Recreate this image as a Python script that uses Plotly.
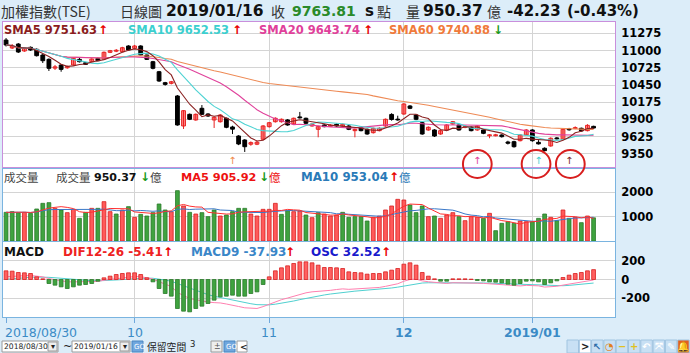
import numpy as np
import pandas as pd
import plotly.graph_objects as go

W, H = 690, 353

# ---------------- data ----------------
month_tick_idx = [0, 21, 43, 65, 86]
month_tick_lbl = ["2018/08/30", "10", "11", "12", "2019/01"]
price_ticks = [9350, 9625, 9900, 10175, 10450, 10725, 11000, 11275]
vol_ticks = [1000, 2000]
macd_ticks = [-200, 0, 200]

opens = [11168, 11041, 11104, 10993, 11052, 11020, 10929, 10860, 10720, 10769,
         10725, 10769, 10860, 10806, 10822, 10876, 10865, 10972, 10990, 10982,
         11073, 11036, 11073, 10929, 10822, 10662, 10487, 10477, 10275, 9796,
         9982, 9892, 10078, 9987, 9892, 9864, 9919, 9780, 9636, 9572,
         9505, 9505, 9583, 9785, 9864, 9864, 9892, 9828, 9940, 9919,
         9796, 9743, 9812, 9790, 9822, 9796, 9796, 9721, 9775, 9743,
         9689, 9721, 9796, 9980, 9905, 9987, 10115, 9971, 9848, 9732,
         9732, 9668, 9732, 9828, 9812, 9775, 9775, 9732, 9732, 9640,
         9640, 9652, 9540, 9545, 9561, 9652, 9732, 9535, 9440, 9477,
         9605, 9583, 9750, 9755, 9759, 9721, 9790]
highs = [11200, 11104, 11120, 11050, 11065, 11035, 10945, 10875, 10770, 10785,
         10760, 10890, 10880, 10815, 10880, 10890, 10985, 11010, 11025, 11060,
         11085, 11090, 11085, 10935, 10835, 10675, 10500, 10515, 10290, 10050,
         9995, 9995, 10130, 10000, 9950, 9985, 9930, 9800, 9650, 9585,
         9550, 9560, 9810, 9860, 9935, 9915, 9905, 9930, 10020, 9930,
         9840, 9800, 9825, 9825, 9835, 9835, 9810, 9755, 9790, 9755,
         9770, 9775, 9915, 10000, 9960, 10160, 10130, 9985, 9860, 9790,
         9745, 9735, 9825, 9875, 9825, 9805, 9790, 9810, 9745, 9665,
         9670, 9665, 9560, 9560, 9665, 9745, 9745, 9570, 9455, 9615,
         9620, 9755, 9765, 9790, 9770, 9825, 9800]
lows = [11065, 11025, 10961, 10980, 10995, 10905, 10801, 10674, 10690, 10662,
        10710, 10760, 10810, 10770, 10810, 10830, 10855, 10960, 10975, 10975,
        11000, 11025, 10915, 10850, 10700, 10500, 10440, 10460, 9800, 9748,
        9890, 9880, 9970, 9940, 9764, 9850, 9760, 9668, 9490, 9381,
        9480, 9490, 9570, 9770, 9850, 9850, 9800, 9815, 9915, 9825,
        9785, 9615, 9775, 9780, 9785, 9785, 9730, 9615, 9710, 9655,
        9675, 9710, 9785, 9880, 9880, 9975, 10065, 9890, 9655, 9720,
        9620, 9655, 9720, 9815, 9720, 9760, 9710, 9720, 9665, 9600,
        9630, 9610, 9500, 9450, 9550, 9640, 9545, 9500, 9390, 9465,
        9580, 9570, 9720, 9745, 9705, 9710, 9750]
closes = [11089, 11073, 10977, 11036, 11009, 10918, 10838, 10717, 10740, 10700,
          10745, 10876, 10822, 10780, 10865, 10838, 10972, 10998, 11005, 11045,
          11009, 11073, 10929, 10860, 10717, 10514, 10460, 10502, 9812, 10040,
          9903, 9982, 9982, 9955, 9935, 9971, 9775, 9745, 9508, 9465,
          9530, 9537, 9796, 9848, 9919, 9903, 9812, 9919, 9925, 9839,
          9827, 9785, 9785, 9810, 9796, 9822, 9743, 9743, 9721, 9668,
          9759, 9759, 9903, 9900, 9892, 10147, 10078, 9903, 9668, 9775,
          9636, 9721, 9812, 9864, 9732, 9790, 9721, 9796, 9679, 9655,
          9655, 9625, 9520, 9465, 9652, 9732, 9561, 9510, 9402, 9600,
          9590, 9743, 9735, 9770, 9716, 9806.04, 9763.81]

volumes = [1175, 1202, 1161, 1175, 1134, 1312, 1544, 1571, 1339, 1271,
           1161, 1298, 929, 1175, 1339, 1339, 1612, 1202, 1106, 1271,
           1407, 970, 1093, 1024, 1161, 1517, 1271, 1202, 2063, 1435,
           1175, 1106, 1161, 997, 1271, 1024, 1065, 1202, 1339, 1339,
           1106, 1024, 1298, 1298, 1544, 1093, 1243, 1202, 1230, 1065,
           956, 1161, 1106, 1024, 1065, 1175, 970, 997, 997, 819,
           970, 1024, 1271, 1435, 1708, 1681, 1476, 1161, 1435, 997,
           1024, 929, 1065, 1161, 997, 833, 997, 970, 929, 1134,
           423, 724, 792, 724, 819, 792, 792, 929, 1106, 970,
           833, 1271, 929, 970, 751, 1024, 950.37]
vol_dir = ("gggrggggrg" "rrggrgrrgr" "grgggggrgr" "grgggrgggg" "rrrrrggrrg"
           "rgrrrggggg" "rrrrrrgggr" "grrrgrrrgr" "ggggrrgggr" "grgrgrg")

osc = [28.6, 27.5, 23.1, 22.0, 19.8, 8.8, 2.2, -13.2, -18.7, -24.2,
       -29.7, -24.2, -18.7, -16.5, -13.2, -5.5, 5.5, 11.0, 16.5, 19.8,
       22.0, 22.0, 16.5, 5.5, -7.7, -29.7, -46.2, -55.0, -95.7, -104.5,
       -106.7, -95.7, -88.0, -79.2, -68.2, -57.2, -55.0, -51.7, -55.0, -55.0,
       -46.2, -40.7, -16.5, 8.8, 28.6, 38.5, 45.1, 52.8, 58.3, 58.3,
       55.0, 47.3, 39.6, 39.6, 38.5, 36.3, 25.3, 23.1, 22.0, 17.6,
       19.8, 19.8, 25.3, 30.8, 36.3, 50.6, 55.0, 47.3, 23.1, 11.0,
       2.2, -5.5, -5.5, 2.2, 2.2, 2.2, 1.1, -3.3, -4.4, -7.7,
       -8.8, -11.0, -15.4, -18.7, -13.2, -5.5, -4.4, -7.7, -16.5, -11.0,
       -4.4, 6.6, 14.3, 19.8, 23.1, 28.6, 32.52]
macd9 = [0.6, 7.4, 13.2, 18.7, 23.7, 25.9, 26.4, 23.1, 18.4, 12.4,
         4.9, -1.1, -5.8, -9.9, -13.2, -14.6, -13.2, -10.4, -6.3, -1.4,
         4.1, 9.6, 13.8, 15.1, 13.2, 5.8, -5.8, -19.5, -43.4, -69.6,
         -96.3, -120.2, -142.2, -162.0, -179.0, -193.3, -207.1, -220.0, -233.8, -247.5,
         -259.1, -269.2, -273.4, -271.2, -264.0, -254.4, -243.1, -229.9, -215.3, -200.8,
         -187.0, -175.2, -165.3, -155.4, -145.8, -136.7, -130.4, -124.6, -119.1, -114.7,
         -109.7, -104.8, -98.5, -90.8, -81.7, -69.0, -55.3, -43.5, -37.7, -34.9,
         -34.4, -35.8, -37.1, -36.6, -36.0, -35.5, -35.2, -36.0, -37.1, -39.1,
         -41.3, -44.0, -47.9, -52.5, -55.8, -57.2, -58.3, -60.2, -64.4, -67.1,
         -68.2, -66.6, -63.0, -58.0, -52.3, -45.1, -37.93]
dif = [29.2, 34.9, 36.3, 40.7, 43.5, 34.7, 28.6, 9.9, -0.3, -11.8,
       -24.8, -25.3, -24.5, -26.4, -26.4, -20.1, -7.7, 0.6, 10.2, 18.4,
       26.1, 31.6, 30.3, 20.6, 5.5, -23.9, -52.0, -74.5, -139.1, -174.1,
       -203.0, -215.9, -230.2, -241.2, -247.2, -250.5, -262.1, -271.7, -288.8, -302.5,
       -305.3, -309.9, -289.9, -262.4, -235.4, -215.9, -198.0, -177.1, -157.0, -142.5,
       -132.0, -127.9, -125.7, -115.8, -107.3, -100.4, -105.1, -101.5, -97.1, -97.1,
       -89.9, -85.0, -73.2, -60.0, -45.4, -18.4, -0.3, 3.8, -14.6, -23.9,
       -32.2, -41.3, -42.6, -34.4, -33.8, -33.3, -34.1, -39.3, -41.5, -46.8,
       -50.1, -55.0, -63.3, -71.2, -69.0, -62.7, -62.7, -67.9, -80.9, -78.1,
       -72.6, -60.0, -48.7, -38.2, -29.2, -16.5, -5.41]

signal_idx = [37, 77, 87, 92]
signal_col = ["#f08a4b", "#e0409a", "#3fcfcf", "#7a2a2a"]
circled_idx = [77.0, 86.6, 92.2]

# ---------------- helpers ----------------
def px(x):
    return x / W

def py(y):
    return 1 - y / H

LAT = "DejaVu Sans"
CJK = "Noto Sans CJK TC"
n = len(closes)
idx = np.arange(n)
o = np.array(opens, float); c = np.array(closes, float)
hi = np.array(highs, float); lo = np.array(lows, float)
up = c >= o

fig = go.Figure()

# wicks
for mask, col in [(up, "#e82020"), (~up, "#000000")]:
    xs, ys = [], []
    for i in idx[mask]:
        xs += [i, i, None]; ys += [lo[i], hi[i], None]
    fig.add_trace(go.Scatter(x=xs, y=ys, mode="lines", line=dict(color=col, width=1),
                             xaxis="x", yaxis="y", hoverinfo="skip"))
# bodies
base = np.minimum(o, c); hgt = np.abs(c - o)
fig.add_trace(go.Bar(x=idx[up], y=hgt[up], base=base[up], width=0.62,
                     marker=dict(color="#ff8a8a", line=dict(color="#e82020", width=1)),
                     xaxis="x", yaxis="y"))
fig.add_trace(go.Bar(x=idx[~up], y=hgt[~up], base=base[~up], width=0.62,
                     marker=dict(color="#000000", line=dict(color="#000000", width=1)),
                     xaxis="x", yaxis="y"))
# SMAs
cs = pd.Series(c)
for win, col in [(60, "#ee8a55"), (20, "#e0429b"), (10, "#4fd3d3"), (5, "#8b2323")]:
    fig.add_trace(go.Scatter(x=idx, y=cs.rolling(win, min_periods=1).mean(), mode="lines",
                             line=dict(color=col, width=1.1), xaxis="x", yaxis="y"))
# signal marks
fig.add_trace(go.Scatter(x=signal_idx, y=[9222] * len(signal_idx), mode="text", text=["↑"] * len(signal_idx),
                         textfont=dict(color=signal_col, size=10, family=LAT), xaxis="x", yaxis="y"))

# volume
v = np.array(volumes, float)
vup = np.array([d == "r" for d in vol_dir])
fig.add_trace(go.Bar(x=idx[vup], y=v[vup], width=0.62,
                     marker=dict(color="#ff5a5a", line=dict(color="#d82020", width=0.8)),
                     xaxis="x2", yaxis="y2"))
fig.add_trace(go.Bar(x=idx[~vup], y=v[~vup], width=0.62,
                     marker=dict(color="#3fa33f", line=dict(color="#2a7a2a", width=0.8)),
                     xaxis="x2", yaxis="y2"))
vs = pd.Series(v)
fig.add_trace(go.Scatter(x=idx, y=vs.rolling(10, min_periods=1).mean(), mode="lines",
                         line=dict(color="#3a78c8", width=1), xaxis="x2", yaxis="y2"))
fig.add_trace(go.Scatter(x=idx, y=vs.rolling(5, min_periods=1).mean(), mode="lines",
                         line=dict(color="#ff3030", width=1), xaxis="x2", yaxis="y2"))

# MACD
oa = np.array(osc)
fig.add_trace(go.Bar(x=idx[oa >= 0], y=oa[oa >= 0], width=0.62,
                     marker=dict(color="#ff6060", line=dict(color="#d82020", width=0.8)),
                     xaxis="x3", yaxis="y4"))
fig.add_trace(go.Bar(x=idx[oa < 0], y=oa[oa < 0], width=0.62,
                     marker=dict(color="#3fa33f", line=dict(color="#2a7a2a", width=0.8)),
                     xaxis="x3", yaxis="y4"))
fig.add_trace(go.Scatter(x=idx, y=macd9, mode="lines", line=dict(color="#50d0d0", width=1),
                         xaxis="x3", yaxis="y3"))
fig.add_trace(go.Scatter(x=idx, y=dif, mode="lines", line=dict(color="#ff80b0", width=1),
                         xaxis="x3", yaxis="y3"))

GRID = "#d4d4d4"
PBOR = "#c98fdc"
VBOR = "#7ab4e0"
XR = [-0.5, 99.5]
xdom = [px(3), px(615)]
common_x = dict(range=XR, domain=xdom, showline=True, mirror=True, zeroline=False,
                showticklabels=False, ticks="", tickvals=month_tick_idx[1:],
                showgrid=True, gridcolor=GRID, fixedrange=True)
tickf = dict(family=LAT, size=11.5, color="#000", weight="bold")
common_y = dict(side="right", showline=True, mirror=True, zeroline=False, showgrid=True,
                gridcolor=GRID, ticks="", tickfont=tickf, fixedrange=True, ticklabelstandoff=3)

rng_price = [9141, 11456]
rng_macd = [-401, 401]
hist_scale = 3.24

fig.update_layout(
    width=W, height=H, margin=dict(l=0, r=0, t=0, b=0),
    paper_bgcolor="#dcedf9", plot_bgcolor="#ffffff", showlegend=False,
    barmode="overlay", hovermode=False,
    xaxis=dict(**common_x, anchor="y", linecolor=PBOR),
    xaxis2=dict(**common_x, anchor="y2", linecolor=VBOR),
    xaxis3=dict(range=XR, domain=xdom, showline=True, mirror=True, zeroline=False,
                showticklabels=False, ticks="outside", ticklen=5, tickcolor="#6fa8dc",
                tickvals=month_tick_idx, showgrid=False, linecolor=VBOR, anchor="y3",
                minor=dict(tickvals=month_tick_idx[1:], showgrid=True, gridcolor=GRID, ticks=""),
                fixedrange=True),
    yaxis=dict(**common_y, domain=[py(167), py(22)], range=rng_price, tickvals=price_ticks,
               ticktext=[str(t) for t in price_ticks], linecolor=PBOR, anchor="x"),
    yaxis2=dict(**common_y, domain=[py(241), py(169)], range=[0, 2951], tickvals=vol_ticks,
                ticktext=[str(t) for t in vol_ticks], linecolor=VBOR, anchor="x2"),
    yaxis3=dict(**common_y, domain=[py(317), py(242)], range=rng_macd, tickvals=macd_ticks,
                ticktext=[str(t) for t in macd_ticks], linecolor=VBOR, anchor="x3"),
    yaxis4=dict(overlaying="y3", range=[rng_macd[0] / hist_scale, rng_macd[1] / hist_scale],
                visible=False, fixedrange=True),
)

ann = []
def txt(x, y, s, color="#333", size=12, bold=False, family=LAT, anchor="left"):
    ann.append(dict(x=px(x), y=py(y), xref="paper", yref="paper", text=s, showarrow=False,
                    xanchor=anchor, yanchor="middle", borderpad=0,
                    font=dict(family=family, size=size, color=color,
                              weight="bold" if bold else "normal")))

# title row
txt(0, 11, "加權指數(TSE)", "#333", 14, False, CJK)
txt(119, 11, "日線圖", "#333", 14, False, CJK)
txt(165, 11, "2019/01/16", "#111", 15.5, True)
txt(270, 11, "收", "#333", 14, False, CJK)
txt(291, 11, "9763.81", "#2a8a2a", 14, True)
txt(364, 11, "s", "#111", 15, True)
txt(376, 11, "點", "#333", 14, False, CJK)
txt(405, 11, "量", "#333", 14, False, CJK)
txt(422, 11, "950.37", "#111", 15.5, True)
txt(486, 11, "億", "#333", 14, False, CJK)
txt(506, 11, "-42.23", "#111", 15, True)
txt(566, 11, "(-0.43%)", "#111", 15, True)

# SMA row
RED = "#e80000"; GRN = "#1a9a1a"
txt(3, 30, "SMA5 9751.63", "#8b1c1c", 11.5, True)
txt(97, 30, "↑", RED, 12, True)
txt(127, 30, "SMA10 9652.53", "#3ccfcf", 11.5, True)
txt(231, 30, "↑", RED, 12, True)
txt(258, 30, "SMA20 9643.74", "#e0409a", 11.5, True)
txt(362, 30, "↑", RED, 12, True)
txt(388, 30, "SMA60 9740.88", "#f07a3a", 11.5, True)
txt(492, 30, "↓", GRN, 12, True)

# volume row
txt(3, 177, "成交量", "#444", 11.5, False, CJK)
txt(55, 177, "成交量", "#444", 11.5, False, CJK)
txt(93, 177, "950.37", "#111", 11, True)
txt(139, 177, "↓", GRN, 12, True)
txt(149, 177, "億", "#444", 11.5, False, CJK)
txt(180, 177, "MA5 905.92", "#ee1111", 11.3, True)
txt(257.5, 177, "↓", GRN, 12, True)
txt(268, 177, "億", "#ee1111", 11.5, False, CJK)
txt(300, 177, "MA10 953.04", "#2a7ab8", 11.8, True)
txt(388, 177, "↑", RED, 12, True)
txt(398, 177, "億", "#2a7ab8", 11.5, False, CJK)

# MACD row
txt(3, 252, "MACD", "#111", 12, True)
txt(62, 252, "DIF12-26 -5.41", "#ee2222", 12, True)
txt(162, 252, "↑", RED, 12, True)
txt(190, 252, "MACD9 -37.93", "#3a86c8", 12, True)
txt(284, 252, "↑", RED, 12, True)
txt(310, 252, "OSC 32.52", "#1a1acc", 12, True)
txt(380, 252, "↑", RED, 12, True)

# x tick labels
XL = "#3b8bc6"
for k, (i, lab) in enumerate(zip(month_tick_idx, month_tick_lbl)):
    ann.append(dict(x=i if k else -0.5, y=py(332), xref="x3", yref="paper", text=lab, showarrow=False,
                    xanchor="left" if k == 0 else "center", yanchor="middle",
                    font=dict(family=LAT, size=12.5, color=XL, weight="bold" if k >= 3 else "normal")))

# bottom toolbar
shapes = []
def box(x0, y0, x1, y1, fill="#ffffff", line="#9a9a9a"):
    shapes.append(dict(type="rect", xref="paper", yref="paper", x0=px(x0), x1=px(x1),
                       y0=py(y1), y1=py(y0), fillcolor=fill, line=dict(color=line, width=1)))

box(2, 341, 58, 352); box(48, 342, 57, 351, "#eeeeee")
txt(2.5, 346.5, "2018/08/30", "#222", 7.6)
txt(49.5, 346.5, "▾", "#222", 8)
txt(62, 346, "~", "#222", 11)
box(72, 341, 130, 352); box(120, 342, 129, 351, "#eeeeee")
txt(72.5, 346.5, "2019/01/16", "#222", 7.6)
txt(121.5, 346.5, "▾", "#222", 8)
box(132, 341, 143, 352, "#6fa6de", "#4a86c0")
txt(132.5, 346.5, "GO", "#ffffff", 7)
txt(146, 346.5, "保留空間", "#222", 9.8, False, CJK)
txt(189, 344, "3", "#222", 8.5)
box(211, 341, 222, 352, "#eeeeee")
txt(213, 346.5, "±", "#555", 8)
box(224, 341, 235, 352, "#6fa6de", "#4a86c0")
txt(224.5, 346.5, "GO", "#ffffff", 7)
box(237, 341, 247, 352)
txt(239, 346.5, "<", "#222", 9, True)
icons = [("", "#c8e0f4"), (">", "#ffffff"), ("↖", "#c8e0f4"), ("◔", "#c8e0f4"), ("−", "#c8e0f4"),
         ("+", "#c8e0f4"), ("↶", "#c8e0f4"), ("⤧", "#c8e0f4"), ("✎", "#c8e0f4"), ("🔔", "#e06020")]
icol = ["#222", "#222", "#2a6aa8", "#e08020", "#e0c020", "#e0c020", "#ffffff", "#ffffff", "#ffffff", "#ffd040"]
for k, (g, f) in enumerate(icons):
    x0 = 567 + k * 12.3
    box(x0, 340, x0 + 11.5, 353, f, "#a0c4e0")
    if g:
        txt(x0 + 5.75, 346.5, g, icol[k], 10, True, LAT, "center")

# red hand-drawn circles
for cx in circled_idx:
    shapes.append(dict(type="circle", xref="x", yref="paper", x0=cx - 2.35, x1=cx + 2.35,
                       y0=py(178), y1=py(150), line=dict(color="#d81e1e", width=2)))

fig.update_layout(annotations=ann, shapes=shapes)
fig.write_html("out.html", config={"displayModeBar": False})
